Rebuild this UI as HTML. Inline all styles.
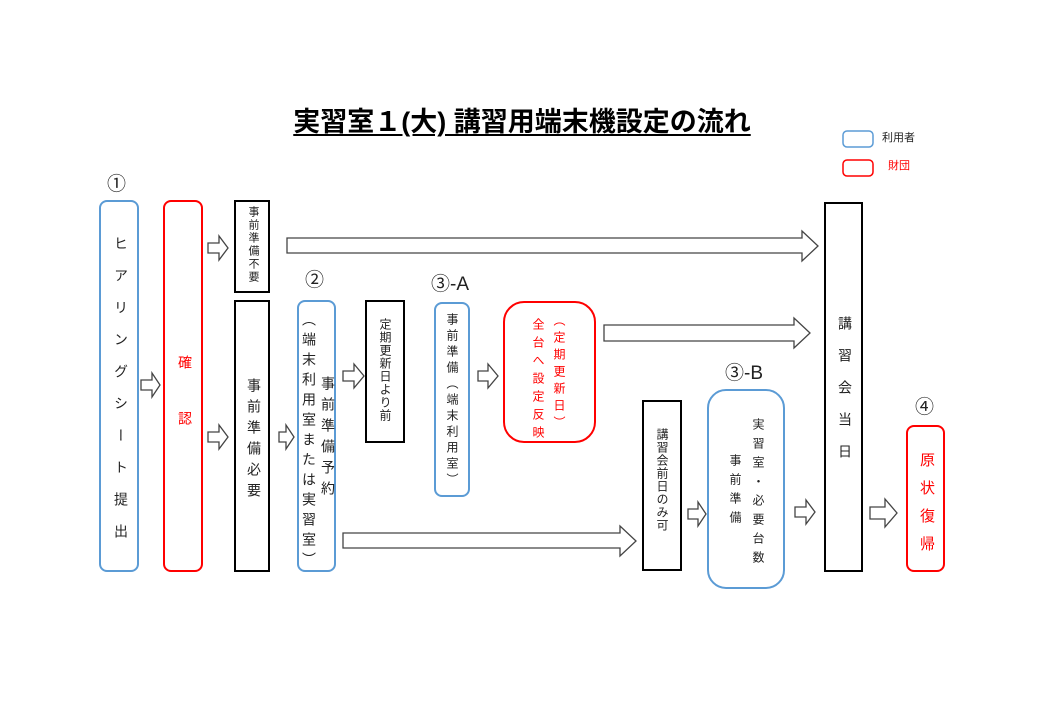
<!DOCTYPE html>
<html><head><meta charset="utf-8"><style>
body{margin:0;width:1040px;height:720px;background:#fff;position:relative;overflow:hidden;font-family:"Liberation Sans","Noto Sans CJK JP",sans-serif;color:#222}
.v{position:absolute;writing-mode:vertical-rl;text-orientation:upright;white-space:nowrap;line-height:1;width:16px;text-align:start}
.t{position:absolute;white-space:nowrap;line-height:1}
svg{position:absolute;left:0;top:0}
</style></head><body>
<svg width="1040" height="720" fill="none" stroke-width="2">
<rect x="843" y="131" width="30" height="16" rx="4" stroke="#5b9bd5" stroke-width="1.5"/>
<rect x="843" y="160" width="30" height="16" rx="4" stroke="#f00" stroke-width="1.5"/>
<rect x="100" y="201" width="38" height="370" rx="7" stroke="#5b9bd5"/>
<rect x="164" y="201" width="38" height="370" rx="7" stroke="#f00"/>
<rect x="235" y="201" width="34" height="91" stroke="#000"/>
<rect x="235" y="301" width="34" height="270" stroke="#000"/>
<rect x="298" y="301" width="37" height="270" rx="7" stroke="#5b9bd5"/>
<rect x="366" y="301" width="38" height="141" stroke="#000"/>
<rect x="435" y="303" width="34" height="193" rx="7" stroke="#5b9bd5"/>
<rect x="504" y="302" width="91" height="140" rx="20" stroke="#f00"/>
<rect x="643" y="401" width="38" height="169" stroke="#000"/>
<rect x="708" y="390" width="76" height="198" rx="18" stroke="#5b9bd5"/>
<rect x="825" y="203" width="37" height="368" stroke="#000"/>
<rect x="907" y="426" width="37" height="145" rx="7" stroke="#f00"/>
<g stroke="#444" stroke-width="1.3" fill="#fff">
<polygon points="141,380 152,380 152,373 160,385 152,397 152,390 141,390"/>
<polygon points="208,243 219,243 219,236 228,248 219,260 219,253 208,253"/>
<polygon points="208,432 219,432 219,425 228,437 219,449 219,442 208,442"/>
<polygon points="279,432 286,432 286,425 294,437 286,449 286,442 279,442"/>
<polygon points="343,371 354,371 354,364 364,376 354,388 354,381 343,381"/>
<polygon points="478,371 488,371 488,364 498,376 488,388 488,381 478,381"/>
<polygon points="688,509 698,509 698,502 706,514 698,526 698,519 688,519"/>
<polygon points="795,507 806,507 806,500 815,512 806,524 806,517 795,517"/>
<polygon points="870,507 885,507 885,499 897,513 885,527 885,519 870,519"/>
<polygon points="287,238 802,238 802,231 818,246 802,261 802,253 287,253"/>
<polygon points="604,325 794,325 794,318 810,333 794,348 794,341 604,341"/>
<polygon points="343,533 620,533 620,526 636,541 620,556 620,548 343,548"/>
</g>
</svg>
<div class="t" style="left:0;width:1044px;text-align:center;top:109px;font-size:27px;font-weight:bold;color:#000"><span style="text-decoration:underline;text-underline-offset:3px">実習室１(大) 講習用端末機設定の流れ</span></div>
<div class="t" style="left:882px;top:133px;font-size:11px">利用者</div>
<div class="t" style="left:888px;top:161px;font-size:11px;color:#f00">財団</div>
<div class="t" style="left:107px;top:175px;font-size:19px">①</div>
<div class="t" style="left:305px;top:271px;font-size:19px">②</div>
<div class="t" style="left:431px;top:275px;font-size:19px">③-A</div>
<div class="t" style="left:725px;top:364px;font-size:19px">③-B</div>
<div class="t" style="left:915px;top:398px;font-size:19px">④</div>
<div class="v" style="left:112px;top:236px;font-size:14px;letter-spacing:18px">ヒアリングシート提出</div>
<div class="v" style="left:176px;top:355px;font-size:14px;letter-spacing:42px;color:#f00">確認</div>
<div class="v" style="left:246px;top:206px;font-size:11px;letter-spacing:2px;width:12px">事前準備不要</div>
<div class="v" style="left:245px;top:378px;font-size:14px;letter-spacing:7px">事前準備必要</div>
<div class="v" style="left:319px;top:376px;font-size:14px;letter-spacing:7px">事前準備予約</div>
<div class="v" style="left:300px;top:312px;font-size:14px;letter-spacing:6px">（端末利用室または実習室）</div>
<div class="v" style="left:379px;top:318px;font-size:12px;letter-spacing:1px;width:12px">定期更新日より前</div>
<div class="v" style="left:446px;top:313px;font-size:12px;letter-spacing:4px;width:12px">事前準備（端末利用室）</div>
<div class="v" style="left:553px;top:314px;font-size:12px;letter-spacing:5px;width:12px;color:#f00">（定期更新日）</div>
<div class="v" style="left:532px;top:318px;font-size:12px;letter-spacing:6px;width:12px;color:#f00">全台へ設定反映</div>
<div class="v" style="left:656px;top:428px;font-size:12px;letter-spacing:1px;width:12px">講習会前日のみ可</div>
<div class="v" style="left:752px;top:418px;font-size:12px;letter-spacing:7px;width:12px">実習室・必要台数</div>
<div class="v" style="left:729px;top:454px;font-size:12px;letter-spacing:7px;width:12px">事前準備</div>
<div class="v" style="left:836px;top:316px;font-size:14px;letter-spacing:18px">講習会当日</div>
<div class="v" style="left:918px;top:452px;font-size:15px;letter-spacing:13px;color:#f00">原状復帰</div>
</body></html>
